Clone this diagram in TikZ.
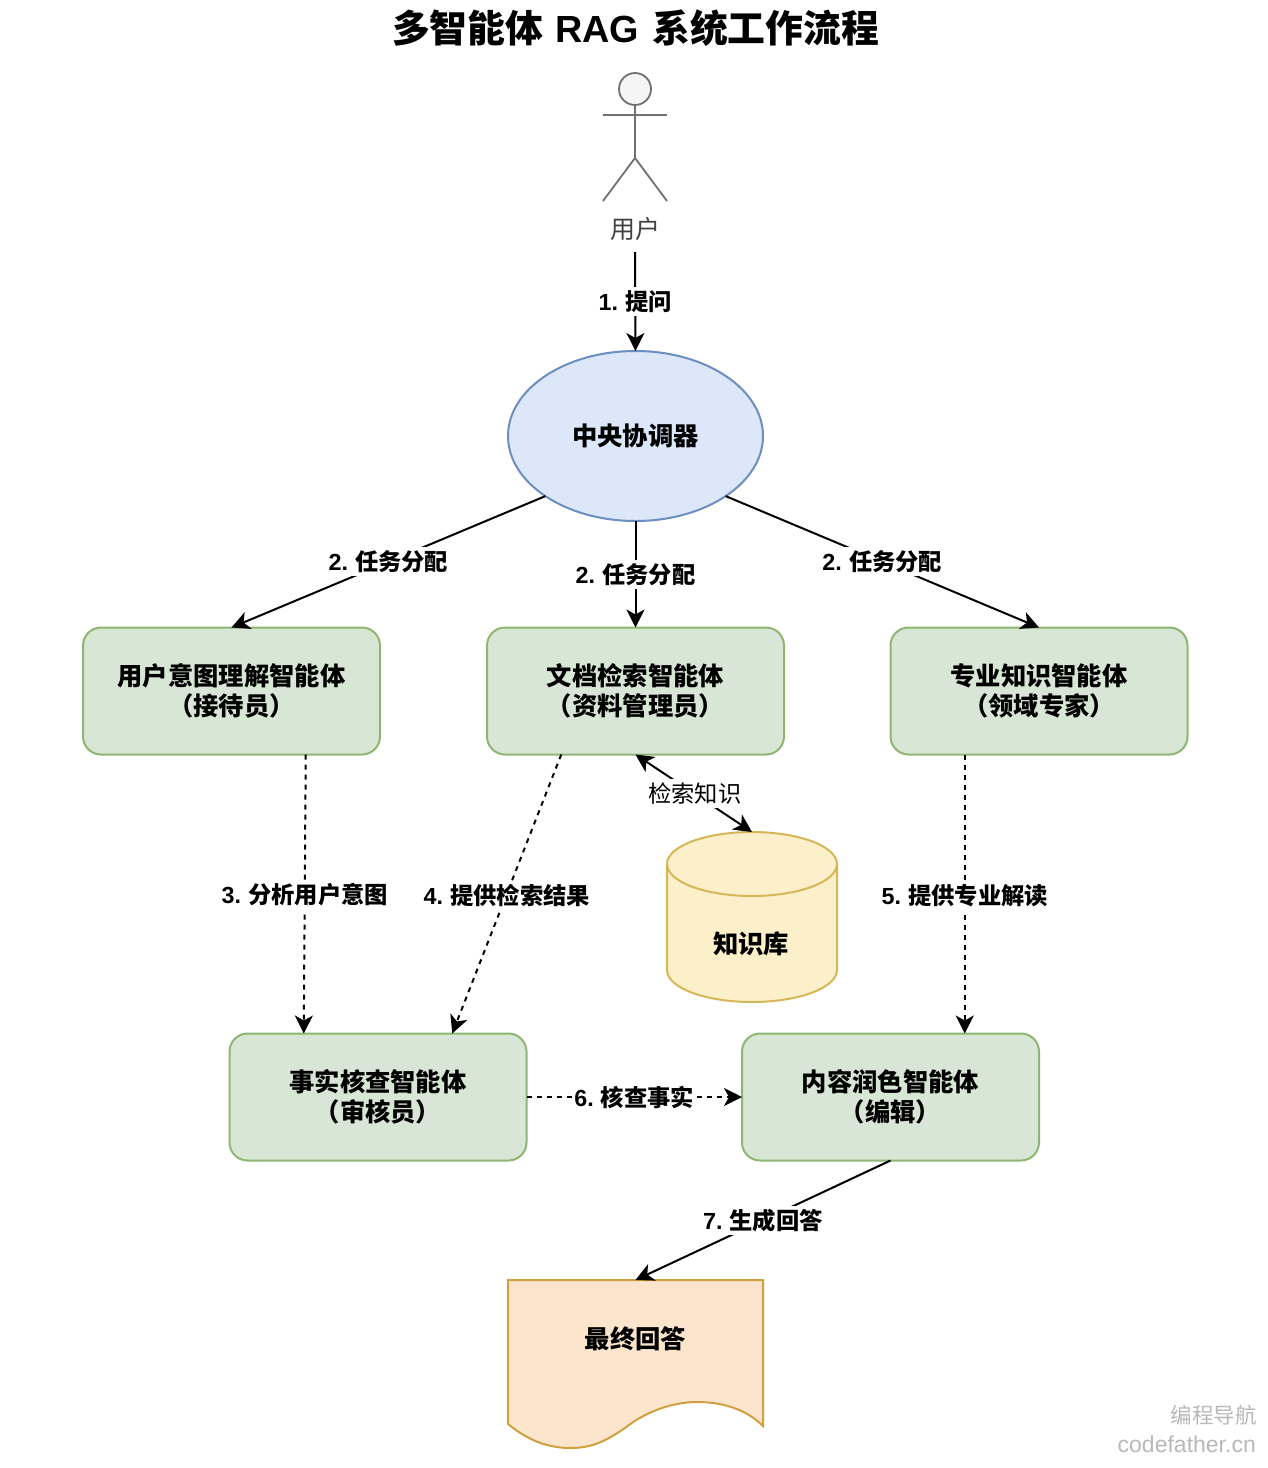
\documentclass[tikz,border=0pt]{standalone}
\usepackage{fontspec}
\setmainfont{Noto Sans CJK SC}
\newfontfamily\latinfont{Liberation Sans}
\definecolor{AgentGreen}{HTML}{D8E6D5}
\definecolor{AgentLine}{HTML}{8FB573}
\definecolor{HubBlue}{HTML}{DCE7FA}
\definecolor{HubLine}{HTML}{6C8EBF}
\definecolor{StoreYellow}{HTML}{FCF0CA}
\definecolor{StoreLine}{HTML}{D6B656}
\definecolor{DocOrange}{HTML}{FCE5CD}
\definecolor{DocLine}{HTML}{D0A040}
\definecolor{FigureLine}{HTML}{707070}
\usetikzlibrary{shapes.geometric, arrows.meta, positioning, calc}
\newcommand{\lat}[1]{{\latinfont #1}}
\tikzset{
  % Box styles
  agentbox/.style={rectangle, rounded corners=18pt, draw=AgentLine, fill=AgentGreen, line width=2pt, minimum width=297pt, minimum height=127pt, outer sep=0pt, align=center, font=\fontsize{25.3}{30.5}\selectfont\bfseries},
  hubnode/.style={ellipse, draw=HubLine, fill=HubBlue, line width=2pt, minimum width=255pt, minimum height=170pt, inner sep=0pt, outer sep=0pt, font=\fontsize{25.3}{30}\selectfont\bfseries},
  storebox/.style={rectangle, minimum width=170pt, minimum height=170pt, inner sep=0pt, outer sep=0pt},
  storeshape/.style={draw=StoreLine, fill=StoreYellow, line width=2pt},
  docnode/.style={rectangle, minimum width=255pt, minimum height=118pt, outer sep=0pt, font=\fontsize{25.3}{30}\selectfont\bfseries},
  docshape/.style={draw=DocLine, fill=DocOrange, line width=2pt},
  figureline/.style={draw=FigureLine, line width=1.8pt},
  % Arrow styles
  arrow/.style={-{Stealth[length=18pt,width=18pt,inset=5pt]}, line width=2pt, black},
  dashedarrow/.style={arrow, dash pattern=on 5pt off 5pt},
  botharrow/.style={{Stealth[length=18pt,width=18pt,inset=5pt]}-{Stealth[length=18pt,width=18pt,inset=5pt]}, line width=2pt, black},
  % Label styles
  edgelabel/.style={fill=white, inner xsep=0pt, inner ysep=0pt, minimum height=29pt, font=\fontsize{23.3}{28}\selectfont\bfseries},
  plainlabel/.style={fill=white, inner xsep=0pt, inner ysep=0pt, minimum height=29pt, font=\fontsize{23.3}{28}\selectfont}
}

\begin{document}
\begin{tikzpicture}[x=1pt, y=-1pt]
  \useasboundingbox (0,0) rectangle (1268,1468);

  % Title
  \node[font=\fontsize{37.8}{44}\selectfont\bfseries] (title) at (635.5,28) {多智能体\hspace{12pt}\lat{RAG}\hspace{13pt}系统工作流程};

  % User figure
  \node[circle, figureline, fill=black!4, minimum size=32pt, inner sep=0pt, outer sep=0pt] (head) at (635,89) {};
  \coordinate (hip) at (635,158);
  \draw[figureline] (head.south) -- (hip);
  \draw[figureline] (603,115) -- (667,115);
  \draw[figureline] (603,201) -- (hip) -- (667,201);
  \node[minimum height=46pt, inner sep=0pt, outer sep=0pt, text=black!75, font=\fontsize{25}{28}\selectfont] (user) at (635,229) {用户};

  % Coordinator
  \node[hubnode] (hub) at (635.5,436) {中央协调器};

  % Agents
  \node[agentbox] (intent) at (231.5,691) {用户意图理解智能体\\（接待员）};
  \node[agentbox] (search) at (635.5,691) {文档检索智能体\\（资料管理员）};
  \node[agentbox] (expert) at (1039,691) {专业知识智能体\\（领域专家）};
  \node[agentbox] (check) at (378,1097) {事实核查智能体\\（审核员）};
  \node[agentbox] (polish) at (890.5,1097) {内容润色智能体\\（编辑）};

  % Knowledge base
  \node[storebox] (store) at (752,917) {};
  \draw[storeshape] (667,864) -- (667,970) arc[start angle=180, end angle=360, x radius=85pt, y radius=32pt]
    -- (837,864) arc[start angle=0, end angle=180, x radius=85pt, y radius=32pt] -- cycle;
  \draw[storeshape, fill=none] (667,864) arc[start angle=180, end angle=360, x radius=85pt, y radius=32pt];
  \node[font=\fontsize{25.3}{30}\selectfont\bfseries] (storetext) at (751,944) {知识库};

  % Final answer
  \draw[docshape] (508,1280) -- (763,1280) -- (763,1426)
    .. controls (745,1408) and (720,1402) .. (697,1402)
    .. controls (672,1402) and (645,1412) .. (625,1428)
    .. controls (610,1438) and (595,1448) .. (571,1448)
    .. controls (550,1448) and (530,1442) .. (508,1424) -- cycle;
  \node[docnode] (answer) at (635.5,1339) {最终回答};

  % Anchor points on the agent boxes
  \coordinate (intentout) at ($(intent.south west)!0.75!(intent.south east)$);
  \coordinate (searchout) at ($(search.south west)!0.25!(search.south east)$);
  \coordinate (expertout) at ($(expert.south west)!0.25!(expert.south east)$);
  \coordinate (checkinl) at ($(check.north west)!0.25!(check.north east)$);
  \coordinate (checkinr) at ($(check.north west)!0.75!(check.north east)$);
  \coordinate (polishin) at ($(polish.north west)!0.75!(polish.north east)$);

  % Arrows
  \draw[arrow] (user.south) -- node[edgelabel] {\lat{1.} 提问} (hub.north);
  \draw[arrow] (hub.south west) -- node[edgelabel] {\lat{2.} 任务分配} (intent.north);
  \draw[arrow] (hub.south) -- node[edgelabel] {\lat{2.} 任务分配} (search.north);
  \draw[arrow] (hub.south east) -- node[edgelabel] {\lat{2.} 任务分配} (expert.north);
  \draw[dashedarrow] (intentout) -- node[edgelabel, yshift=-1pt] {\lat{3.} 分析用户意图} (checkinl);
  \draw[dashedarrow] (searchout) -- node[edgelabel, yshift=-1pt] {\lat{4.} 提供检索结果} (checkinr);
  \draw[dashedarrow] (expertout) -- node[edgelabel, yshift=-2pt] {\lat{5.} 提供专业解读} (polishin);
  \draw[dashedarrow] (check.east) -- node[edgelabel] {\lat{6.} 核查事实} (polish.west);
  \draw[arrow] (polish.south) -- node[edgelabel] {\lat{7.} 生成回答} (answer.north);
  \draw[botharrow] (search.south) -- node[plainlabel, xshift=1pt] {检索知识} (store.north);

  % Watermark
  \node[anchor=east, inner sep=0pt, text=black!28, font=\fontsize{21.5}{26}\selectfont] (markcn) at (1257,1415) {编程导航};
  \node[anchor=east, inner sep=0pt, text=black!28, font=\latinfont\fontsize{23}{27}\selectfont] (markurl) at (1256,1444) {codefather.cn};
\end{tikzpicture}
\end{document}
